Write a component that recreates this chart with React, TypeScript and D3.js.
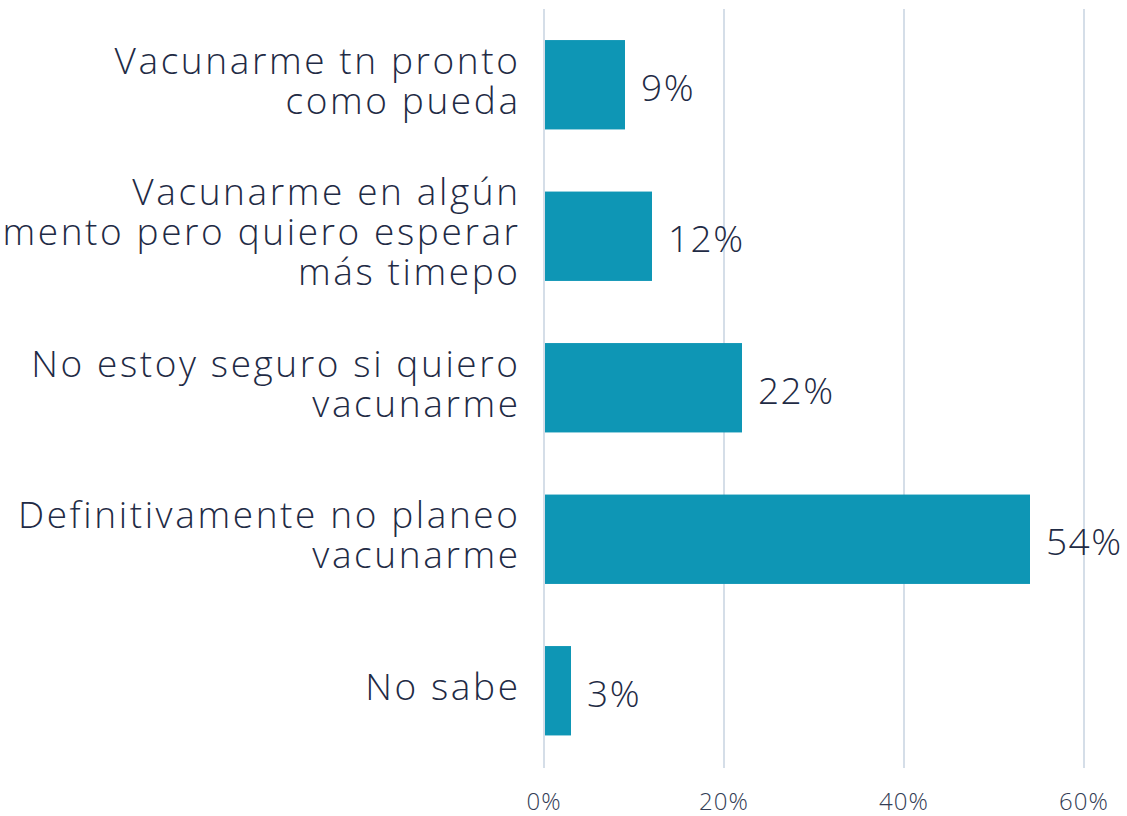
import React from "react";
import * as d3 from "d3";

const categories: string[][] = [
  ["Vacunarme tn pronto", "como pueda"],
  ["Vacunarme en algún", "momento pero quiero esperar", "más timepo"],
  ["No estoy seguro si quiero", "vacunarme"],
  ["Definitivamente no planeo", "vacunarme"],
  ["No sabe"],
];
const values: number[] = [9, 12, 22, 54, 3];
const tickValues: number[] = [0, 20, 40, 60];

const W = 1127;
const H = 816;
const FONT = "'Open Sans', 'DejaVu Sans', sans-serif";
const TEXT = "#1f2b45";

export default function App() {
  const x = d3.scaleLinear().domain([0, 60]).range([544, 1084]);
  const y = d3
    .scaleBand<number>()
    .domain(values.map((_, i) => i))
    .range([9, 766.5])
    .paddingInner(0.41)
    .paddingOuter(0.205);
  const lineH = 40;
  const ls = 2.6;
  return (
    <svg
      width={W}
      height={H}
      style={{ position: "absolute", left: 0, top: 0, background: "#fff" }}
      fontFamily={FONT}
    >
      {tickValues.map((t) => (
        <line
          key={t}
          x1={x(t)}
          x2={x(t)}
          y1={9}
          y2={768}
          stroke="#d5dee8"
          strokeWidth={2}
        />
      ))}
      {values.map((v, i) => {
        const y0 = y(i)!;
        const cy = y0 + y.bandwidth() / 2;
        const lines = categories[i];
        return (
          <g key={i}>
            <rect
              x={x(0) + 1}
              y={y0}
              width={x(v) - x(0) - 1}
              height={y.bandwidth()}
              fill="#0e96b5"
            />
            <text
              x={x(v) + 16}
              y={cy + 16}
              fontSize={37}
              fill={TEXT}
              fontWeight={350}
              letterSpacing={1.5}
            >
              {v}%
            </text>
            {lines.map((l, j) => (
              <text
                key={j}
                x={518 + ls}
                y={cy + 9 + (j - (lines.length - 1) / 2) * lineH}
                textAnchor="end"
                fontSize={37}
                fontWeight={350}
                letterSpacing={ls}
                fill={TEXT}
              >
                {l}
              </text>
            ))}
          </g>
        );
      })}
      {tickValues.map((t) => (
        <text
          key={"l" + t}
          x={x(t)}
          y={810}
          textAnchor="middle"
          fontSize={24}
          fontWeight={350}
          letterSpacing={1}
          fill="#333d55"
        >
          {t}%
        </text>
      ))}
    </svg>
  );
}
